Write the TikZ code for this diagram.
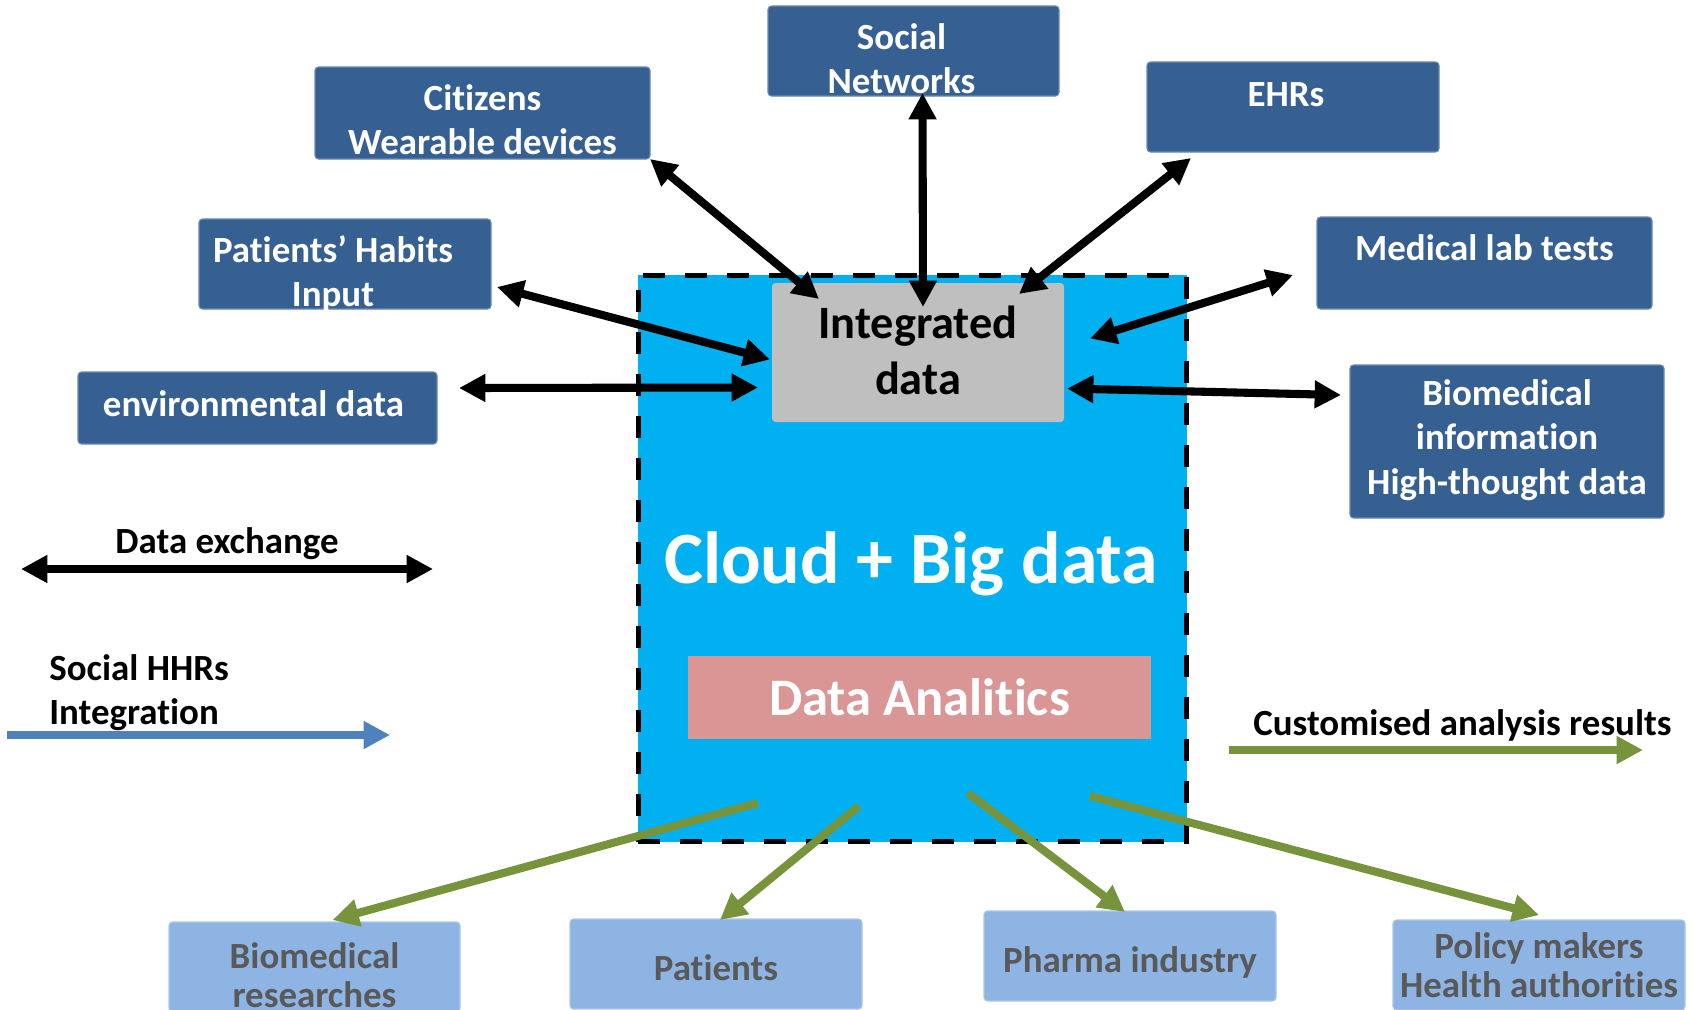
\documentclass[tikz,border=0pt]{standalone}
\usepackage{fontspec}
\setmainfont{Carlito}[Ligatures=NoCommon]
\usepackage{tikz}
\usetikzlibrary{arrows.meta}
\definecolor{boxblue}{RGB}{55,96,146}
\definecolor{cloudblue}{RGB}{0,176,240}
\definecolor{intgrey}{RGB}{191,191,191}
\definecolor{anapink}{RGB}{217,150,148}
\definecolor{lightblue}{RGB}{142,180,227}
\definecolor{txtgrey}{RGB}{89,89,89}
\definecolor{resgreen}{RGB}{119,147,60}
\definecolor{legblue}{RGB}{79,129,189}
\newlength\pxl
\setlength\pxl{0.02cm}
% box text: width, height, first baseline (in px), text
\newcommand\boxtext[4]{\parbox[c][#2\pxl][t]{#1\pxl}{\centering\rule{0pt}{#3\pxl}#4}}

\begin{document}
\begin{tikzpicture}[
    x=0.02cm, y=-0.02cm,
    >={Triangle[length=15pt,width=15pt]},
    font=\bfseries,
    source/.style={
		rectangle,
		rounded corners=2pt,
		fill=boxblue,
		draw=boxblue!75!white,
		line width=0.6pt,
		inner sep=0pt,
		outer sep=0pt,
		anchor=north west,
		text=white,
		font=\fontsize{21pt}{25.6pt}\selectfont\bfseries
	},
    target/.style={
		rectangle,
		rounded corners=2pt,
		fill=lightblue,
		draw=lightblue!75!white,
		line width=0.6pt,
		inner sep=0pt,
		outer sep=0pt,
		anchor=north west,
		text=txtgrey,
		font=\fontsize{21pt}{22.7pt}\selectfont\bfseries
	},
	exch/.style={<->, line width=4.6pt, black},
	result/.style={->, line width=4.6pt, resgreen},
	legend/.style={
		inner sep=0pt,
		font=\fontsize{21pt}{25.6pt}\selectfont\bfseries
	}
  ]
  \clip (0,0) rectangle (1694,1009);

  % the cloud in the middle
  \node [draw=black, fill=cloudblue, line width=0.1cm, dash pattern=on 0.44cm off 0.4cm,
         anchor=north west, inner sep=0pt, outer sep=0pt,
         minimum width=10.98cm, minimum height=11.34cm] (cloud) at (638,275) {};
  \node [anchor=north west, fill=intgrey, rounded corners=2pt, inner sep=0pt, outer sep=0pt,
         font=\fontsize{26.4pt}{32.3pt}\selectfont\bfseries] (integ) at (772,283)
  {\boxtext{292}{139}{55}{Integrated\\data}};
  \node [anchor=base, text=white, font=\fontsize{42pt}{50pt}\selectfont\bfseries] (cbd) at (911,583)
  {Cloud + Big data};
  \node [anchor=north west, fill=anapink, inner sep=0pt, outer sep=0pt, text=white,
         minimum width=9.26cm, minimum height=1.66cm,
         font=\fontsize{30pt}{36pt}\selectfont\bfseries] (ana) at (688,656) {Data Analitics};

  % data sources
  \node [source] (soc) at (768,6) {\boxtext{291}{90}{43}{Social\kern24\pxl\\Networks\kern24\pxl}};
  \node [source] (cit) at (315,67) {\boxtext{335}{92}{43}{Citizens\\Wearable devices}};
  \node [source] (hab) at (199,219) {\boxtext{292}{90}{43}{Patients’ Habits\kern24\pxl\\Input\kern24\pxl}};
  \node [source] (ehr) at (1147,62) {\boxtext{292}{90}{44}{EHRs\kern14\pxl}};
  \node [source] (lab) at (1317,217) {\boxtext{335}{92}{43}{Medical lab tests}};
  \node [source] (env) at (78,372) {\boxtext{359}{72}{44}{environmental data\kern8\pxl}};
  \node [source] (bio) at (1350,365) {\boxtext{314}{153}{40}{Biomedical\\information\\High-thought data}};

  % users of the results
  \node [target] (bres) at (169,922) {\boxtext{291}{90}{46}{Biomedical\\researches}};
  \node [target] (pat) at (570,919) {\boxtext{292}{90}{61}{Patients}};
  \node [target] (pha) at (984,911) {\boxtext{292}{90}{61}{Pharma industry}};
  \node [target] (pol) at (1393,920) {\boxtext{292}{90}{38}{Policy makers\\Health authorities}};

  % data exchange
  \draw [exch] (cit.south east) -- ([shift={(47,16)}]integ.north west);
  \draw [exch] ([shift={(9,-3)}]soc.south) -- ([shift={(5,24)}]integ.north);
  \draw [exch] ([shift={(44,6)}]ehr.south west) -- ([shift={(-45,11)}]integ.north east);
  \draw [exch] ([shift={(6,-22)}]hab.south east) -- ([shift={(-2,7)}]integ.west);
  \draw [exch] ([shift={(22,-20)}]env.east) -- ([shift={(-14,35)}]integ.west);
  \draw [exch] ([shift={(-24,12)}]lab.west) -- ([shift={(26,-14)}]integ.east);
  \draw [exch] ([shift={(-9,30)}]bio.north west) -- ([shift={(3,36)}]integ.east);

  % results
  \draw [result] ([shift={(70,64)}]ana.south west) -- ([shift={(18,-2)}]bres.north);
  \draw [result] ([shift={(171,67)}]ana.south west) -- ([shift={(4,1)}]pat.north);
  \draw [result] ([shift={(280,54)}]ana.south west) -- ([shift={(-5,1)}]pha.north);
  \draw [result] ([shift={(-61,57)}]ana.south east) -- ([shift={(0,-5)}]pol.north);

  % legend
  \coordinate (dxl) at (21,569);
  \coordinate (dxr) at (433,569);
  \draw [exch] (dxl) -- (dxr);
  \node [legend, anchor=base] (dxtext) at (227,553) {Data exchange};

  \coordinate (hhrl) at (7,735);
  \coordinate (hhrr) at (390,735);
  \draw [->, line width=4.6pt, legblue] (hhrl) -- (hhrr);
  \node [legend, anchor=base west] (hhrtext) at (49,680)
  {%
  \begin{tabular}[t]{@{}l@{}}
   Social HHRs\\
   Integration
  \end{tabular}
  };

  \coordinate (carl) at (1229,750);
  \coordinate (carr) at (1643,750);
  \draw [result] (carl) -- (carr);
  \node [legend, anchor=base west] (cartext) at (1253,735) {Customised analysis results};

\end{tikzpicture}
\end{document}
